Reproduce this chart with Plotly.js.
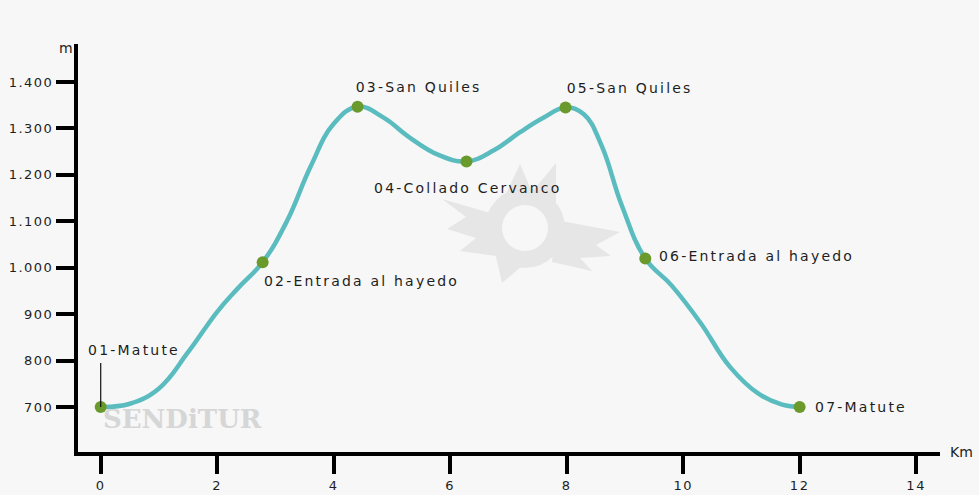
<!DOCTYPE html>
<html>
<head>
<meta charset="utf-8">
<script src="https://cdn.plot.ly/plotly-3.0.1.min.js"></script>
<style>
html,body{margin:0;padding:0;background:#f7f7f7;}
#chart{width:979px;height:495px;}
#chart .annotation[data-index="0"] .annotation-text,
#chart .annotation[data-index="1"] .annotation-text,
#chart .annotation[data-index="2"] .annotation-text,
#chart .annotation[data-index="3"] .annotation-text,
#chart .annotation[data-index="4"] .annotation-text,
#chart .annotation[data-index="5"] .annotation-text,
#chart .annotation[data-index="6"] .annotation-text{letter-spacing:2.2px;}
#chart .xtick text, #chart .ytick text{letter-spacing:1.5px;}
</style>
</head>
<body>
<div id="chart"></div>
<script>
// Waypoints: distance (km) and elevation (m)
const km = [0, 2.78, 4.41, 6.28, 7.98, 9.35, 12.0];
const elevation = [700, 1012, 1347, 1229, 1345, 1020, 700];
const waypointNames = ["01-Matute", "02-Entrada al hayedo", "03-San Quiles", "04-Collado Cervanco", "05-San Quiles", "06-Entrada al hayedo", "07-Matute"];

// Elevation profile line
const profileKm = [0, 0.5, 1.0, 1.5, 2.0, 2.35, 2.78, 3.2, 3.6, 4.0, 4.41, 4.85, 5.3, 5.8, 6.28, 6.75, 7.2, 7.6, 7.98, 8.3, 8.6, 8.95, 9.35, 9.8, 10.3, 10.8, 11.3, 11.7, 12.0];
const profileElev = [700, 707, 740, 818, 905, 955, 1012, 1101, 1217, 1310, 1347, 1324, 1281, 1243, 1229, 1253, 1292, 1323, 1345, 1330, 1263, 1133, 1020, 962, 881, 787, 728, 705, 700];

const yTickVals = [700, 800, 900, 1000, 1100, 1200, 1300, 1400];
const yTickText = ["700", "800", "900", "1.000", "1.100", "1.200", "1.300", "1.400"];
const xTickVals = [0, 2, 4, 6, 8, 10, 12, 14];

const LS = 2.2; // letter spacing of waypoint labels (px)
// label placement (pixels relative to each point)
const labelPos = [
  {xa: "left", xs: -15, ys: 57},
  {xa: "left", xs: -1, ys: -19},
  {xa: "left", xs: -4, ys: 20},
  {xa: "center", xs: 2, ys: -27},
  {xa: "left", xs: -1, ys: 20},
  {xa: "left", xs: 12, ys: 2},
  {xa: "left", xs: 13, ys: 0}
];

const L = 78, R = 940, T = 44, B = 452;
const W = 979, H = 495;
const px = v => (v - L) / (R - L);
const py = v => (B - v) / (B - T);
function path(pts) {
  return "M " + pts.map(p => px(p[0]).toFixed(4) + "," + py(p[1]).toFixed(4)).join(" L ") + " Z";
}
const wm = "#e6e6e6";
const logoShapes = [
  {pts: [[494,214],[442,199],[466,217],[447,229],[476,238],[460,251],[496,256]]},
  {pts: [[556,220],[620,232],[596,245],[611,256],[580,258],[592,271],[552,262]]},
  {pts: [[503,200],[520,164],[532,192]]},
  {pts: [[532,192],[556,163],[556,205]]},
  {pts: [[494,248],[502,283],[522,266]]}
].map(s => ({type: "path", xref: "paper", yref: "paper", path: path(s.pts), fillcolor: wm, line: {width: 0}, layer: "below"}));
logoShapes.push({type: "circle", xref: "paper", yref: "paper", x0: px(525-40), x1: px(525+40), y0: py(228+40), y1: py(228-40), fillcolor: wm, line: {width: 0}, layer: "below"});
logoShapes.push({type: "circle", xref: "paper", yref: "paper", x0: px(525-23), x1: px(525+23), y0: py(228+23), y1: py(228-23), fillcolor: "#f7f7f7", line: {width: 0}, layer: "below"});

const font = {family: "DejaVu Sans, Verdana, sans-serif", size: 14, color: "#1e1e1e"};
const tickFont = {family: "DejaVu Sans, Verdana, sans-serif", size: 13, color: "#1e1e1e"};

const annotations = waypointNames.map((name, i) => ({
  x: km[i], y: elevation[i], xref: "x", yref: "y",
  text: name, showarrow: false,
  xanchor: labelPos[i].xa, yanchor: "middle",
  xshift: labelPos[i].xs + (labelPos[i].xa === "left" ? name.length * LS / 2 : 0),
  yshift: labelPos[i].ys,
  font: font
}));
// leader line for first waypoint
annotations.push({x: km[0], y: elevation[0], xref: "x", yref: "y", text: " ", showarrow: true,
  ax: 0, ay: -47, arrowhead: 0, arrowwidth: 1.2, arrowcolor: "#111", standoff: 0, font: {size: 2}});
annotations.push({xref: "paper", yref: "paper", x: px(101), y: py(419), xanchor: "left", yanchor: "middle",
  text: "<b>SENDiTUR</b>", showarrow: false, font: {family: "DejaVu Serif, Liberation Serif, serif", size: 26, color: "#d6d6d6"}});
annotations.push({xref: "paper", yref: "paper", x: 1, y: 0, xanchor: "left", yanchor: "middle", xshift: 8,
  text: "Km", showarrow: false, font: font});
annotations.push({xref: "paper", yref: "paper", x: 0, y: 1, xanchor: "right", yanchor: "top", xshift: -3, yshift: 6,
  text: "m", showarrow: false, font: font});

const profile = {
  x: profileKm, y: profileElev, type: "scatter", mode: "lines",
  line: {shape: "spline", smoothing: 1.2, color: "#5bbcc0", width: 4.5},
  hoverinfo: "skip"
};
const points = {
  x: km, y: elevation, type: "scatter", mode: "markers",
  marker: {color: "#6a9a2c", size: 12},
  text: waypointNames, hoverinfo: "text+y"
};

const layout = {
  width: W, height: H,
  paper_bgcolor: "#f7f7f7", plot_bgcolor: "#f7f7f7",
  margin: {l: L, r: W - R, t: T, b: H - B, pad: 0},
  showlegend: false,
  xaxis: {range: [-0.39, 14.41], showgrid: false, zeroline: false, showline: true, linewidth: 4, linecolor: "#000",
    ticks: "outside", ticklen: 18, tickwidth: 4, tickcolor: "#000", tickvals: xTickVals,
    tickfont: tickFont, fixedrange: true},
  yaxis: {range: [603, 1482], showgrid: false, zeroline: false, showline: true, linewidth: 4, linecolor: "#000",
    ticks: "outside", ticklen: 18, tickwidth: 4, tickcolor: "#000", tickvals: yTickVals, ticktext: yTickText,
    tickfont: tickFont, fixedrange: true},
  shapes: logoShapes,
  annotations: annotations
};
Plotly.newPlot("chart", [profile, points], layout, {displayModeBar: false, staticPlot: true});
</script>
</body>
</html>
